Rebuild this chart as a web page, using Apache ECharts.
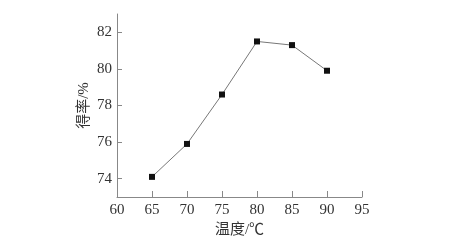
<!DOCTYPE html>
<html><head><meta charset="utf-8">
<script src="https://cdn.jsdelivr.net/npm/echarts@6/dist/echarts.min.js"></script>
<style>html,body{margin:0;padding:0;background:#fff}#c{width:450px;height:248px}</style>
</head><body><div id="c"></div>
<script>
var temps = [65, 70, 75, 80, 85, 90];
var yields = [74.1, 75.9, 78.6, 81.5, 81.3, 79.9];
var yTicks = [74, 76, 78, 80, 82];
var font = '"Liberation Serif", "Times New Roman", "Noto Sans CJK SC", serif';
var chart = echarts.init(document.getElementById('c'));
chart.setOption({
  animation: false,
  grid: {left: 117, right: 88, top: 14, bottom: 51},
  xAxis: {
    type: 'value', min: 60, max: 95, interval: 5,
    name: '温度/℃', nameLocation: 'middle', nameGap: 24,
    nameTextStyle: {fontFamily: font, fontSize: 15, color: '#333'},
    axisLine: {lineStyle: {color: '#888', width: 1}},
    axisTick: {inside: true, length: 6, lineStyle: {color: '#888'}},
    axisLabel: {fontFamily: font, fontSize: 15, color: '#333', margin: 6},
    splitLine: {show: false}
  },
  yAxis: {
    type: 'value', min: 73, max: 83,
    name: '得率/%', nameLocation: 'middle', nameGap: 25, nameMoveOverlap: false,
    nameTextStyle: {fontFamily: font, fontSize: 15, color: '#333'},
    axisLine: {show: true, lineStyle: {color: '#888', width: 1}},
    axisTick: {show: true, inside: true, length: 5, customValues: yTicks, lineStyle: {color: '#888'}},
    axisLabel: {fontFamily: font, fontSize: 15, color: '#333', margin: 5, customValues: yTicks},
    splitLine: {show: false}
  },
  series: [{
    type: 'line',
    data: temps.map(function (t, i) { return [t, yields[i]]; }),
    smooth: false,
    symbol: 'rect', symbolSize: 6,
    lineStyle: {color: '#777', width: 1},
    itemStyle: {color: '#111'}
  }]
});
</script></body></html>
